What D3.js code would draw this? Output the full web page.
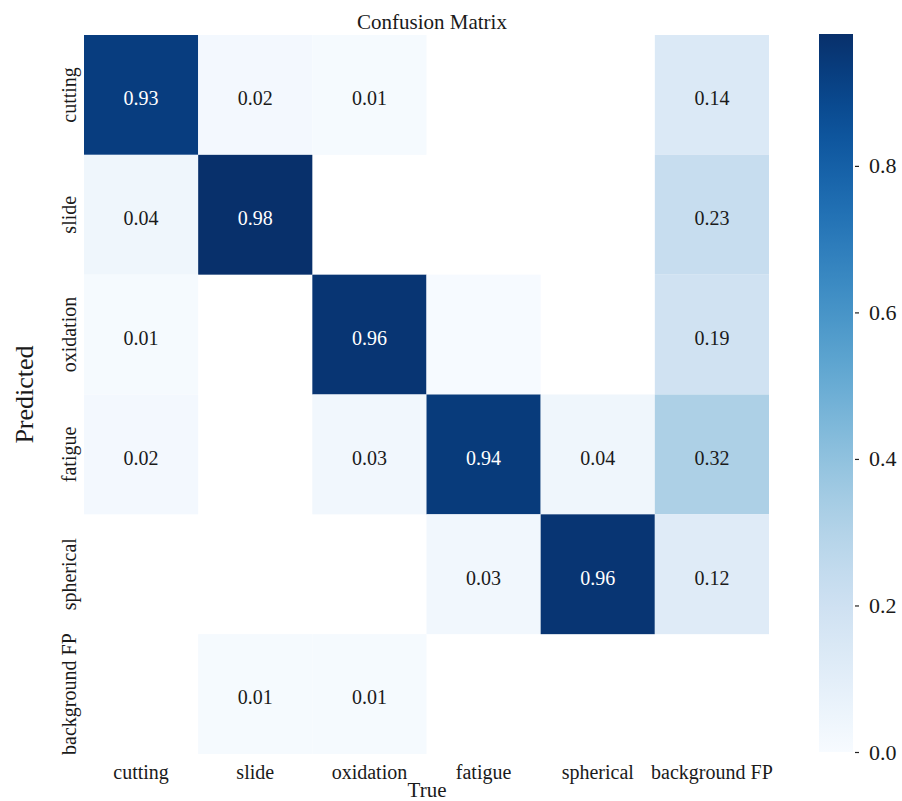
<!DOCTYPE html>
<html>
<head>
<meta charset="utf-8">
<script src="https://cdn.jsdelivr.net/npm/d3@7"></script>
<style>
  html, body { margin: 0; padding: 0; background: #ffffff; }
  svg { display: block; }
  text { font-family: "Liberation Serif", "Times New Roman", serif; }
</style>
</head>
<body>
<svg id="chart" width="902" height="801"></svg>
<script>
// Class labels: columns are the true class, rows the predicted class
const trueLabels = ["cutting", "slide", "oxidation", "fatigue", "spherical", "background FP"];
const predictedLabels = ["cutting", "slide", "oxidation", "fatigue", "spherical", "background FP"];

// Normalised confusion values, one array per predicted row (0 = empty cell)
const rowCutting    = [0.93, 0.02, 0.01, 0,     0,    0.14];
const rowSlide      = [0.04, 0.98, 0,    0,     0,    0.23];
const rowOxidation  = [0.01, 0,    0.96, 0.004, 0,    0.19];
const rowFatigue    = [0.02, 0,    0.03, 0.94,  0.04, 0.32];
const rowSpherical  = [0,    0,    0,    0.03,  0.96, 0.12];
const rowBackground = [0,    0.01, 0.01, 0,     0,    0];
const matrixRows = [rowCutting, rowSlide, rowOxidation, rowFatigue, rowSpherical, rowBackground];

const colorbarTicks = [0.0, 0.2, 0.4, 0.6, 0.8];
const colorMax = 0.98;

const svg = d3.select("#chart");

const x = d3.scaleBand().domain(trueLabels).range([84, 769]).padding(0);
const y = d3.scaleBand().domain(predictedLabels).range([35, 754]).padding(0);
const color = d3.scaleSequential(d3.interpolateBlues).domain([0, colorMax]);

// Flatten into cells
const cells = [];
matrixRows.forEach((row, i) => {
  row.forEach((v, j) => {
    cells.push({ pred: predictedLabels[i], tru: trueLabels[j], value: v });
  });
});

// Heatmap cells (zero cells are left blank)
svg.append("g")
  .selectAll("rect")
  .data(cells.filter(d => d.value > 0))
  .join("rect")
  .attr("x", d => x(d.tru))
  .attr("y", d => y(d.pred))
  .attr("width", x.bandwidth())
  .attr("height", y.bandwidth())
  .attr("fill", d => color(d.value));

// Cell annotations (values below 0.005 stay unlabelled)
svg.append("g")
  .selectAll("text")
  .data(cells.filter(d => d.value >= 0.005))
  .join("text")
  .attr("x", d => x(d.tru) + x.bandwidth() / 2)
  .attr("y", d => y(d.pred) + y.bandwidth() / 2)
  .attr("dy", "0.52em")
  .attr("text-anchor", "middle")
  .attr("font-size", 20)
  .attr("fill", d => d.value > colorMax / 2 ? "#ffffff" : "#1a1a1a")
  .text(d => d3.format(".2f")(d.value));

// Bottom axis: true classes
const xAxis = svg.append("g")
  .attr("transform", `translate(0,${754})`)
  .call(d3.axisBottom(x).tickSize(0).tickPadding(0));
xAxis.select(".domain").remove();
xAxis.selectAll("text")
  .attr("y", 25)
  .attr("dy", 0)
  .attr("font-size", 20)
  .attr("fill", "#1a1a1a");

// Left axis: predicted classes, rotated labels
const yAxis = svg.append("g")
  .attr("transform", `translate(${84},0)`)
  .call(d3.axisLeft(y).tickSize(0).tickPadding(0));
yAxis.select(".domain").remove();
yAxis.selectAll("text")
  .attr("x", 0)
  .attr("dy", 0)
  .attr("text-anchor", "middle")
  .attr("transform", "translate(-8,0) rotate(-90)")
  .attr("font-size", 20)
  .attr("fill", "#1a1a1a");

// Title and axis titles
svg.append("text")
  .attr("x", 432).attr("y", 29)
  .attr("text-anchor", "middle")
  .attr("font-size", 21)
  .attr("fill", "#1a1a1a")
  .text("Confusion Matrix");

svg.append("text")
  .attr("x", 427).attr("y", 797)
  .attr("text-anchor", "middle")
  .attr("font-size", 21)
  .attr("fill", "#1a1a1a")
  .text("True");

svg.append("text")
  .attr("transform", `translate(33,${(35 + 754) / 2}) rotate(-90)`)
  .attr("text-anchor", "middle")
  .attr("font-size", 26)
  .attr("fill", "#1a1a1a")
  .text("Predicted");

// Colour bar
const cbX = 819, cbW = 34, cbTop = 34, cbBottom = 752;
const cbScale = d3.scaleLinear().domain([0, colorMax]).range([cbBottom, cbTop]);

const defs = svg.append("defs");
const grad = defs.append("linearGradient")
  .attr("id", "cbGrad")
  .attr("x1", 0).attr("y1", 1).attr("x2", 0).attr("y2", 0);
d3.range(0, 1.0001, 0.05).forEach(t => {
  grad.append("stop")
    .attr("offset", t)
    .attr("stop-color", color(t * colorMax));
});

svg.append("rect")
  .attr("x", cbX).attr("y", cbTop)
  .attr("width", cbW).attr("height", cbBottom - cbTop)
  .attr("fill", "url(#cbGrad)");

const cbAxis = svg.append("g")
  .attr("transform", `translate(${cbX + cbW},0)`)
  .call(d3.axisRight(cbScale).tickValues(colorbarTicks).tickFormat(d3.format(".1f")).tickSize(6).tickPadding(10));
cbAxis.select(".domain").remove();
cbAxis.selectAll("line").attr("stroke", "#222").attr("x1", 2).attr("stroke-width", 1.2);
cbAxis.selectAll("text").attr("font-size", 22).attr("fill", "#1a1a1a");
</script>
</body>
</html>
